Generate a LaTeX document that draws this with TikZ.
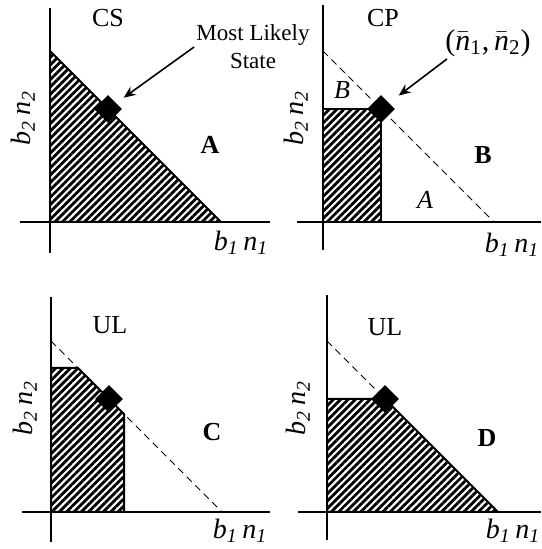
\documentclass[tikz,border=0pt]{standalone}
\usepackage{fontspec}
\setmainfont{Liberation Serif}
\usetikzlibrary{shapes.geometric, arrows.meta, patterns.meta, positioning}

\newcommand{\bsub}[1]{\textit{b}\textsubscript{\textit{#1}}\,\textit{n}\textsubscript{\textit{#1}}}

\begin{document}
\begin{tikzpicture}[
      x=0.5pt, y=0.5pt,
      axis/.style={line width=1pt},
      region/.style={draw, line width=1pt,
                     pattern={Lines[angle=45, distance=2.6pt, line width=1.4pt]}},
      bound/.style={dash pattern=on 3.5pt off 2.5pt, line width=0.5pt},
      state/.style={diamond, fill=black, inner sep=0pt, minimum size=14pt},
      title/.style={font=\fontsize{13}{15}\selectfont},
      tag/.style={font=\fontsize{13}{15}\selectfont\bfseries},
      part/.style={font=\fontsize{13}{15}\selectfont\itshape},
      axlabel/.style={font=\fontsize{14}{16}\selectfont, inner sep=1pt},
      note/.style={font=\fontsize{11.5}{14}\selectfont, align=center, inner sep=1pt},
      arr/.style={-{Stealth[length=6pt, width=5pt, inset=2pt]}, line width=0.8pt}
    ]
      \useasboundingbox (0,0) rectangle (541,549);

      % Top left — complete sharing
      \begin{scope}[shift={(50,327)}]
        \draw[region] (0,0) -- (0,171) -- (171,0) -- cycle;
        \draw[axis] (-30,0) -- (220,0);
        \draw[axis] (0,-31) -- (0,214);
        \node[state] (dA) at (58,113) {};
        \node[title] (csA) at (58,204) {CS};
        \node[tag] (tagA) at (160,77) {A};
        \node[axlabel, rotate=90] (yA) at (-27,104) {\bsub{2}};
        \node[axlabel] (xA) at (191,-21) {\bsub{1}};
        \node[note] (mls) at (203,175) {Most Likely\\State};
        \draw[arr, shorten >=4.5pt] (mls.west) -- (dA);
      \end{scope}

      % Top right — complete partitioning
      \begin{scope}[shift={(323,327)}]
        \draw[region] (0,0) rectangle (58,113);
        \draw[bound] (0,171) -- (171,0);
        \draw[axis] (-26,0) -- (218,0);
        \draw[axis] (0,-28) -- (0,217);
        \node[state] (dB) at (58,113) {};
        \node[title] (cpB) at (60,204) {CP};
        \node[tag] (tagB) at (160,67) {B};
        \node[part] (partB) at (19,132) {B};
        \node[part] (partA) at (102,22) {A};
        \node[axlabel, rotate=90] (yB) at (-27,104) {\bsub{2}};
        \node[axlabel] (xB) at (189,-23) {\bsub{1}};
        \node[font=\fontsize{15}{18}\selectfont, inner sep=1pt] (nbar) at (165,179)
          {($\bar{\textit{n}}$\textsubscript{1},$\,\bar{\textit{n}}$\textsubscript{2})};
        \draw[arr, shorten >=6pt] ([xshift=2pt]nbar.south west) -- (dB);
      \end{scope}

      % Bottom left — upper limit, cut at the right
      \begin{scope}[shift={(51,37)}]
        \draw[bound] (0,171) -- (171,0);
        \draw[region] (0,0) -- (0,144) -- (27,144) -- (73,98) -- (73,0) -- cycle;
        \draw[axis] (-29,0) -- (219,0);
        \draw[axis] (0,-30) -- (0,215);
        \node[state] (dC) at (58,113) {};
        \node[title] (ulC) at (59,187) {UL};
        \node[tag] (tagC) at (161,80) {C};
        \node[axlabel, rotate=90] (yC) at (-26,104) {\bsub{2}};
        \node[axlabel] (xC) at (189,-19) {\bsub{1}};
      \end{scope}

      % Bottom right — upper limit, cut at the top
      \begin{scope}[shift={(327,37)}]
        \draw[bound] (0,171) -- (58,113);
        \draw[region] (0,0) -- (0,113) -- (58,113) -- (171,0) -- cycle;
        \draw[axis] (-29,0) -- (214,0);
        \draw[axis] (0,-28) -- (0,217);
        \node[state] (dD) at (58,113) {};
        \node[title] (ulD) at (58,185) {UL};
        \node[tag] (tagD) at (160,74) {D};
        \node[axlabel, rotate=90] (yD) at (-29,104) {\bsub{2}};
        \node[axlabel] (xD) at (186,-19) {\bsub{1}};
      \end{scope}

    \end{tikzpicture}
\end{document}
